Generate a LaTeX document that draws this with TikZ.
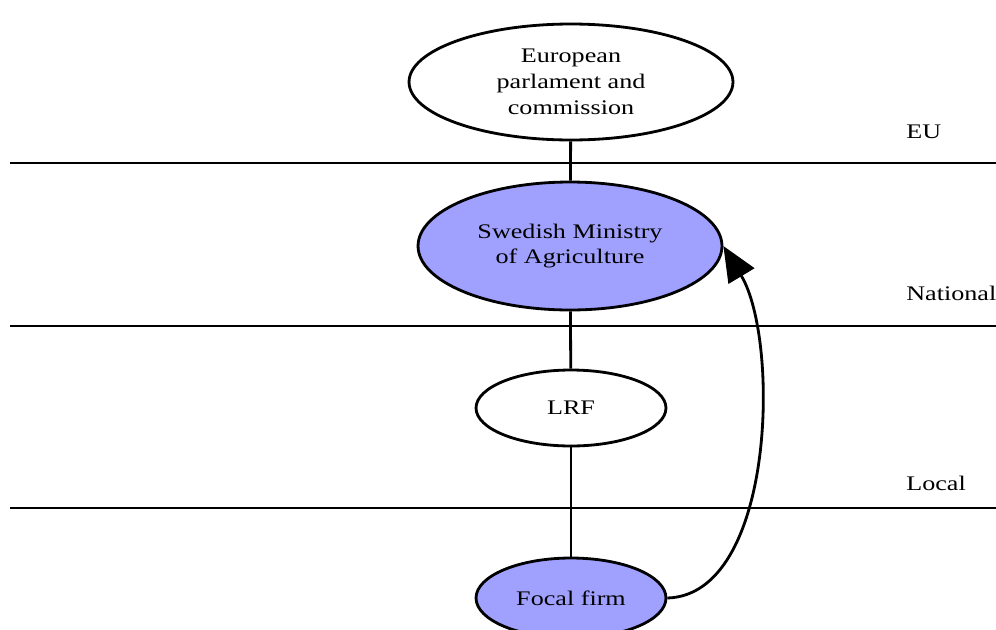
\documentclass[tikz,border=0pt]{standalone}
\usepackage{fontspec}
\setmainfont[FakeStretch=1.26]{Liberation Serif}
\usetikzlibrary{arrows.meta, positioning, shapes.geometric}

\begin{document}
\begin{tikzpicture}[x={(0.02cm,0)}, y={(0,-0.02cm)},
		every node/.style={font=\fontsize{11.8}{14.7}\selectfont},
		actor/.style={ellipse, draw, line width=1.6pt, inner sep=0pt, align=center},
		focal/.style={actor, fill=focalblue},
		level/.style={line width=1.6pt}]
			\definecolor{focalblue}{RGB}{160,160,255}
			\useasboundingbox (0,0) rectangle (996,629);
			% actors
			\node[actor, minimum width=6.48cm, minimum height=2.32cm] (eu) at (571,82) {European\\parlament and\\commission};
			\node[focal, minimum width=6.08cm, minimum height=2.56cm] (ministry) at (570,246) {Swedish Ministry\\of Agriculture};
			\node[actor, minimum width=3.8cm, minimum height=1.52cm] (lrf) at (571,408) {LRF};
			\node[focal, minimum width=3.8cm, minimum height=1.6cm] (firm) at (571,598) {Focal firm};
			% levels
			\coordinate (euL) at (10,163);  \coordinate (euR) at (996,163);
			\coordinate (natL) at (10,326); \coordinate (natR) at (996,326);
			\coordinate (locL) at (10,508); \coordinate (locR) at (996,508);
			\draw[level] (euL) -- (euR);
			\draw[level] (natL) -- (natR);
			\draw[level] (locL) -- (locR);
			\node[anchor=base west, inner sep=0pt] (eulbl) at (906,138) {EU};
			\node[anchor=base west, inner sep=0pt] (natlbl) at (906,300) {National};
			\node[anchor=base west, inner sep=0pt] (loclbl) at (906,490) {Local};
			% links
			\draw[level] (eu) -- (ministry);
			\draw[level] (ministry) -- (lrf);
			\draw[level] (lrf) -- (firm);
			\draw[level, -{Triangle[length=20pt, width=17pt]}] (firm.east) .. controls (775,595) and (780,340) .. (ministry.east);
		\end{tikzpicture}
\end{document}
